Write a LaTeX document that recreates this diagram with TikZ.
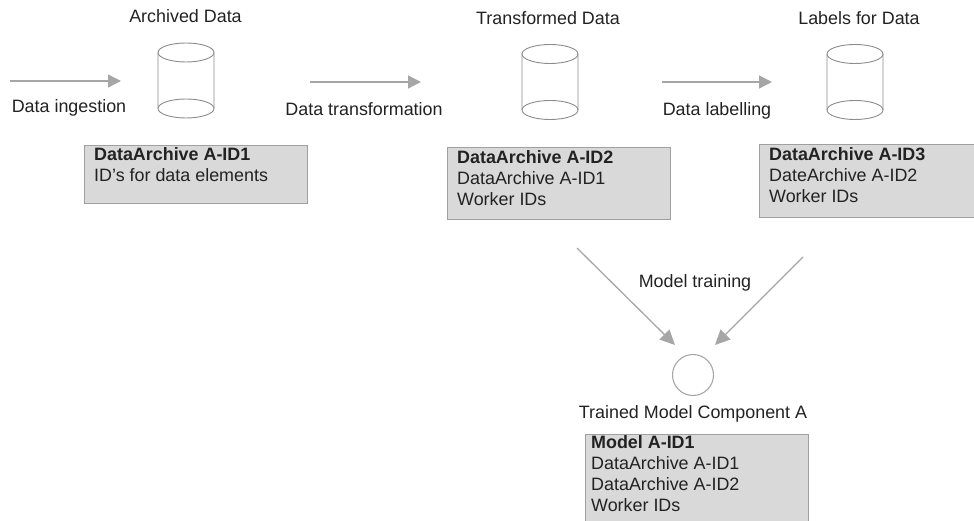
\documentclass[tikz,border=0pt]{standalone}
\usepackage{fontspec}
\setmainfont{Liberation Sans}
\usetikzlibrary{arrows.meta}
\definecolor{linegray}{HTML}{A6A6A6}
\definecolor{boxfill}{HTML}{D9D9D9}
\definecolor{boxline}{HTML}{A0A0A0}
\definecolor{cylline}{HTML}{8C8C8C}
\definecolor{txt}{HTML}{222222}
\tikzset{
  lab/.style={font=\fontsize{17.9}{21}\selectfont,text=txt,inner sep=0pt,anchor=center},
  info/.style={lab,anchor=north west,align=left,font=\fontsize{17.9}{21}\selectfont},
  infobox/.style={draw=boxline,fill=boxfill,line width=1pt},
  flow/.style={draw=linegray,line width=1.3pt,-{Triangle[length=13pt,width=13pt]}},
  diagflow/.style={draw=linegray,line width=1.3pt,-{Triangle[length=15pt,width=14pt]}},
  pics/dbcyl/.style={code={
    \draw[cylline,line width=.9pt] (-28,-28) -- (-28,28) arc[start angle=180,end angle=360,x radius=28,y radius=-9.5]
      -- (28,-28);
    \draw[cylline,line width=.9pt] (0,-28) ellipse[x radius=28,y radius=9.5];
    \draw[cylline,line width=.9pt] (-28,28) arc[start angle=180,end angle=0,x radius=28,y radius=-9.5];
  }}
}
\begin{document}
\begin{tikzpicture}[x=1pt,y=-1pt]
\useasboundingbox (0,0) rectangle (974,521);
% cylinders
\pic at (186,80.5) {dbcyl};
\pic at (550,82) {dbcyl};
\pic at (855,82) {dbcyl};
% titles
\node[lab] (t1) at (185.5,16) {Archived Data};
\node[lab] (t2) at (548,18) {Transformed Data};
\node[lab] (t3) at (859,18) {Labels for Data};
% arrow ends
\coordinate (a1s) at (10,81);
\coordinate (a1e) at (121,81);
\coordinate (a2s) at (310,82);
\coordinate (a2e) at (421,82);
\coordinate (a3s) at (662,82);
\coordinate (a3e) at (772,82);
\coordinate (d1s) at (577,248);
\coordinate (d1e) at (675,345);
\coordinate (d2s) at (803,257);
\coordinate (d2e) at (715,345);
\draw[flow] (a1s) -- (a1e);
\draw[flow] (a2s) -- (a2e);
\draw[flow] (a3s) -- (a3e);
\draw[diagflow] (d1s) -- (d1e);
\draw[diagflow] (d2s) -- (d2e);
% arrow labels
\node[lab] (l1) at (69,108) {Data ingestion};
\node[lab] (l2) at (364,109) {Data transformation};
\node[lab] (l3) at (717,111) {Data labelling};
\node[lab] (l4) at (695,283) {Model training};
% circle
\node[draw=linegray,line width=1.1pt,circle,minimum size=41pt,inner sep=0pt] (c) at (693,375) {};
\node[lab] (l5) at (693,414) {Trained Model Component A};
% boxes
\draw[infobox] (84,146) rectangle (307,204);
\draw[infobox] (447,148) rectangle (670,220);
\draw[infobox] (759,145) rectangle (976,218);
\draw[infobox] (585,434) rectangle (808,523);
\node[info] (b1) at (94,147) {\textbf{DataArchive A-ID1}\\ID’s for data elements};
\node[info] (b2) at (457,150) {\textbf{DataArchive A-ID2}\\DataArchive A-ID1\\Worker IDs};
\node[info] (b3) at (769,147) {\textbf{DataArchive A-ID3}\\DateArchive A-ID2\\Worker IDs};
\node[info] (b4) at (591,435) {\textbf{Model A-ID1}\\DataArchive A-ID1\\DataArchive A-ID2\\Worker IDs};
\end{tikzpicture}
\end{document}
